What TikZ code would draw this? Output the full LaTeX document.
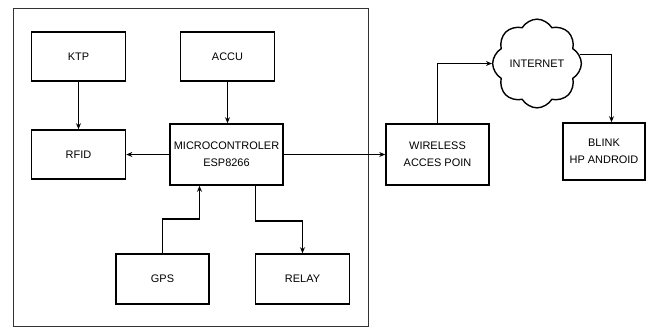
\documentclass[tikz,border=0pt]{standalone}
\usepackage{fontspec}
\setmainfont{Liberation Sans}
\usetikzlibrary{
  arrows.meta,
  shapes
}

\begin{document}
\begin{tikzpicture}[x=1bp, y=-1bp,
    every node/.style = {align=center,
      font=\fontsize{11}{17}\selectfont},
    block/.style = {draw, line width=1.6bp, inner sep=0pt},
    link/.style = {line width=1.9bp, -{Stealth[length=6bp,width=5bp]}}]
  \useasboundingbox (0,0) rectangle (647,329);
  % frame round the device
  \draw[line width=1.3bp, black!80] (13.5,8.5) rectangle (368.5,326.5);
  \node[block, minimum width=94bp, minimum height=49bp] (ktp) at (78.5,56.5) {KTP};
  \node[block, minimum width=94bp, minimum height=49bp] (accu) at (227.5,56.5) {ACCU};
  \node[block, minimum width=94bp, minimum height=49bp] (rfid) at (78.5,154.5) {RFID};
  \node[block, minimum width=113bp, minimum height=61bp] (micro) at (226.5,154.5)
    {MICROCONTROLER\\ESP8266};
  \node[block, minimum width=93bp, minimum height=50bp] (gps) at (162.5,279) {GPS};
  \node[block, minimum width=94bp, minimum height=50bp] (relay) at (302.5,279) {RELAY};
  \node[block, minimum width=103bp, minimum height=61bp] (wifi) at (437.5,154.5)
    {WIRELESS\\ACCES POIN};
  \node[block, minimum width=82bp, minimum height=57bp] (blink) at (604,151.5)
    {BLINK\\HP ANDROID};
  \node[cloud, draw, line width=1.4bp, cloud puffs=8, cloud puff arc=120,
    minimum width=84bp, minimum height=77bp, inner sep=0pt] (net) at (537,63.5) {INTERNET};
  % connections
  \draw[link] (ktp) -- (rfid);
  \draw[link] (accu) -- (accu |- micro.north);
  \draw[link] (micro) -- (rfid);
  \draw[link] (gps.north) -- ++(0,-34) -| ([xshift=-27bp]micro.south);
  \draw[link] ([xshift=29bp]micro.south) -- ++(0,35) -| (relay.north);
  \draw[link] (micro) -- (wifi);
  \draw[link] (wifi.north) |- (net.west);
  \draw[link] (net.12) -| ([xshift=7.5bp]blink.north);
\end{tikzpicture}
\end{document}
